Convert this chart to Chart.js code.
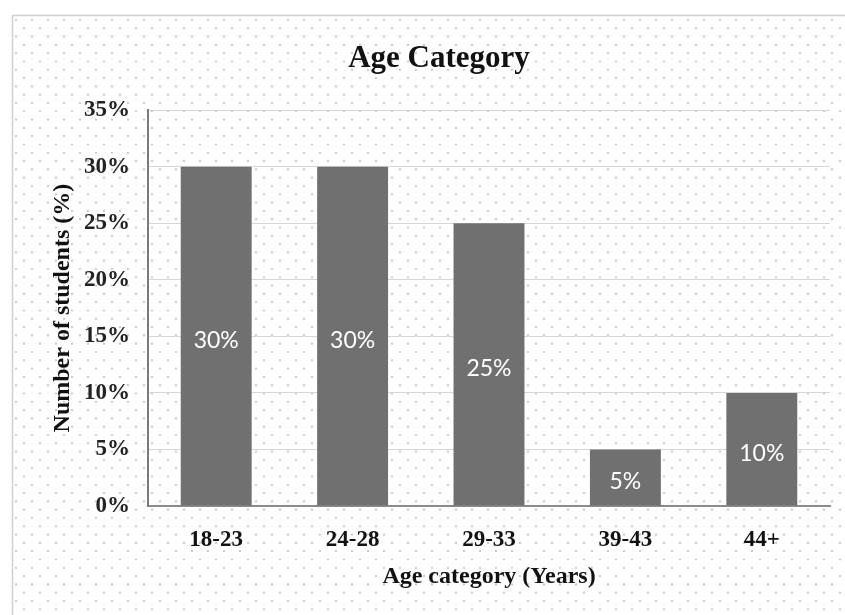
<!DOCTYPE html>
<html>
<head>
<meta charset="utf-8">
<script src="https://cdn.jsdelivr.net/npm/chart.js@4.4.0/dist/chart.umd.min.js"></script>
<style>
  body { margin: 0; background: #fff; }
  #wrap { width: 845px; height: 615px; }
</style>
</head>
<body>
<div id="wrap"><canvas id="myChart"></canvas></div>
<script>
const ch = document.getElementById('myChart').getContext('2d');

// data
const categories = ['18-23', '24-28', '29-33', '39-43', '44+'];
const studentsPct = [30, 30, 25, 5, 10];
const yMax = 35;
const yStep = 5;

const serif = "'Liberation Serif', 'Times New Roman', serif";

// dotted paper background with a thin frame
const dottedBackground = {
    id: 'dottedBackground',
    beforeDraw(chart) {
        const c = chart.ctx;
        const w = chart.width, h = chart.height;
        c.save();
        c.fillStyle = '#ffffff';
        c.fillRect(0, 0, w, h);
        c.fillStyle = '#c4c4c4';
        for (let y = 20, row = 0; y < h; y += 8.3, row++) {
            const off = (row % 2) ? 8 : 0;
            for (let x = 16 + off; x < w; x += 16) {
                c.beginPath();
                c.arc(x, y, 1.1, 0, Math.PI * 2);
                c.fill();
            }
        }
        c.strokeStyle = '#cfcfcf';
        c.lineWidth = 1.5;
        c.strokeRect(12.5, 15.5, w, h);
        c.restore();
    }
};

// white value labels in the middle of each bar (a touch below centre, like the original)
const barLabels = {
    id: 'barLabels',
    afterDatasetsDraw(chart) {
        const c = chart.ctx;
        const meta = chart.getDatasetMeta(0);
        c.save();
        c.fillStyle = '#ffffff';
        c.font = "23px Lato, 'Open Sans', sans-serif";
        c.textAlign = 'center';
        c.textBaseline = 'middle';
        meta.data.forEach((bar, i) => {
            const p = bar.getProps(['x', 'y', 'base'], true);
            c.fillText(studentsPct[i] + '%', p.x, (p.y + p.base) / 2 + 4);
        });
        c.restore();
    }
};

const config = {
    type: 'bar',
    data: {
        labels: categories,
        datasets: [{
            label: 'Number of students (%)',
            data: studentsPct,
            backgroundColor: '#707070',
            borderWidth: 0,
            barPercentage: 0.52,
            categoryPercentage: 1
        }]
    },
    options: {
        responsive: true,
        maintainAspectRatio: false,
        animation: false,
        layout: { padding: { left: 48, right: 15, top: 40, bottom: 24 } },
        plugins: {
            legend: { display: false },
            tooltip: { enabled: false },
            title: {
                display: true,
                text: 'Age Category',
                color: '#111',
                font: { family: serif, size: 31, weight: 'bold' },
                padding: { top: 0, bottom: 33 }
            }
        },
        scales: {
            x: {
                grid: { display: false, drawTicks: false },
                border: { display: true, color: '#8a8a8a', width: 2 },
                ticks: {
                    color: '#111',
                    padding: 20,
                    font: { family: serif, size: 23, weight: 'bold' }
                },
                title: {
                    display: true,
                    text: 'Age category (Years)',
                    color: '#111',
                    font: { family: serif, size: 24, weight: 'bold' },
                    padding: { top: 0, bottom: 0 }
                },
                afterFit(scale) { scale.height = 85; }
            },
            y: {
                min: 0,
                max: yMax,
                grid: { color: '#d6d6d6', lineWidth: 1, drawTicks: false },
                border: { display: true, color: '#7a7a7a', width: 2 },
                ticks: {
                    stepSize: yStep,
                    color: '#222',
                    padding: 18,
                    font: { family: serif, size: 23, weight: 'bold' },
                    callback: v => v + '%'
                },
                title: {
                    display: true,
                    text: 'Number of students (%)',
                    color: '#111',
                    font: { family: serif, size: 24, weight: 'bold' },
                    padding: { top: 0, bottom: 0 }
                },
                afterFit(scale) { scale.width = 100; }
            }
        }
    },
    plugins: [dottedBackground, barLabels]
};

const myChart = new Chart(ch, config);
</script>
</body>
</html>
